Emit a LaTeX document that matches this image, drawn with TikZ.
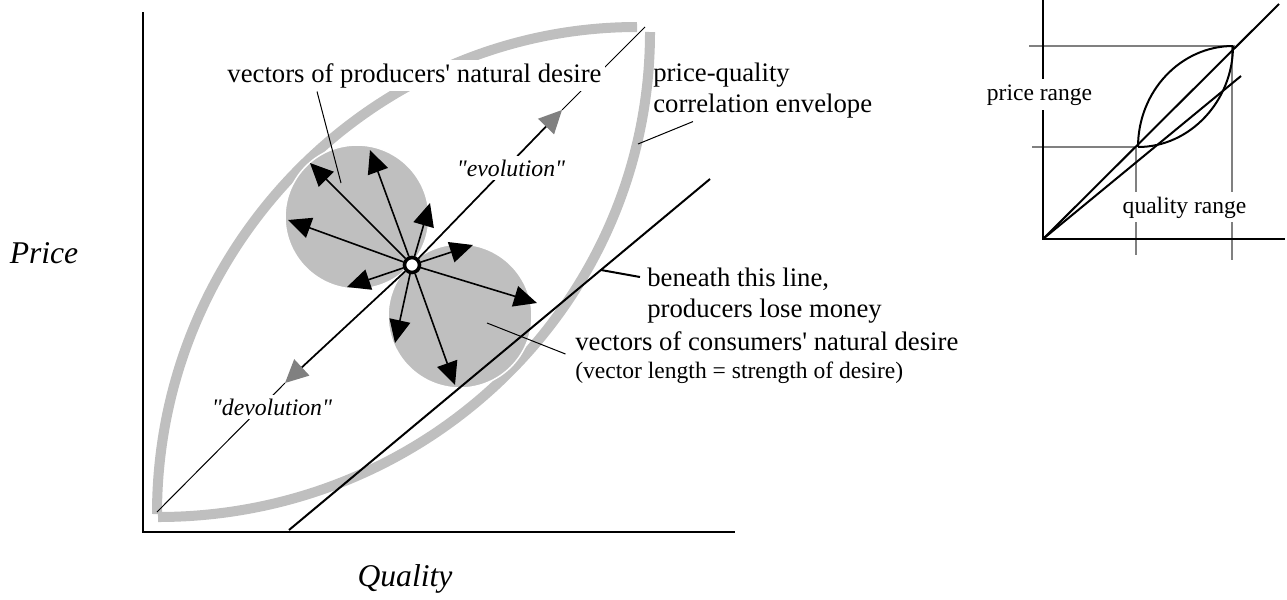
\documentclass[tikz,border=0pt]{standalone}
\usepackage{fontspec}
\setmainfont{Liberation Serif}
\usetikzlibrary{arrows.meta}

\definecolor{envgray}{gray}{0.75}
\definecolor{headgray}{gray}{0.5}

\tikzset{
  envelope/.style={envgray, line width=0.2cm},
  zone/.style={fill=envgray, draw=white, line width=0.03cm},
  vec/.style={line width=0.032cm, -{Triangle[length=0.46cm,width=0.42cm]}},
  trend/.style={line width=0.035cm, -{Triangle[length=0.46cm,width=0.44cm,color=headgray]}},
  txt/.style={inner sep=2pt, font=\fontsize{15.2}{17.5}\selectfont},
  smalltxt/.style={inner sep=2pt, font=\fontsize{13.4}{16}\selectfont},
  axislbl/.style={inner sep=2pt, font=\fontsize{18}{21}\selectfont\itshape},
  gap/.style={fill=white},
  rangeline/.style={headgray, line width=0.04cm}
}

\begin{document}
\begin{tikzpicture}[x=0.02cm, y=-0.02cm]
  \useasboundingbox (0,0) rectangle (1287,599);

  % axes of the main chart
  \draw[line width=0.054cm] (143,12) -- (143,532) -- (735,532);
  \node[axislbl, anchor=base] (pricelbl) at (44,263) {Price};
  \node[axislbl, anchor=base] (qualitylbl) at (405,586) {Quality};

  % price-quality envelope, two gray arcs
  \draw[envelope] (157,514) .. controls (157,246) and (373,27) .. (637,27);
  \draw[envelope] (158,517) .. controls (430,517) and (650,301) .. (650,32);

  % zones of desire
  \draw[zone] (357,217) circle[radius=1.44cm];
  \draw[zone] (460,316) circle[radius=1.44cm];

  % break-even line
  \draw[line width=0.04cm] (289,530) -- (710,179);

  % current point
  \node[circle, draw, fill=white, line width=0.072cm, inner sep=0, minimum size=0.3cm] (ctr) at (412,265) {};

  % evolution / devolution
  \coordinate (evohead) at (562,110); \coordinate (evoend) at (645,27);
  \coordinate (devohead) at (285,383); \coordinate (devoend) at (157,512);
  \draw[trend] (ctr) -- (evohead);
  \draw[line width=0.02cm] (evohead) -- (evoend);
  \draw[trend] (ctr) -- (devohead);
  \draw[line width=0.02cm] (devohead) -- (devoend);

  % producers' vectors
  \coordinate (p1) at (310,163); \coordinate (p2) at (370,150); \coordinate (p3) at (430,203);
  \coordinate (p4) at (288,220); \coordinate (p5) at (347,287);
  \draw[vec] (ctr) -- (p1); \draw[vec] (ctr) -- (p2); \draw[vec] (ctr) -- (p3);
  \draw[vec] (ctr) -- (p4); \draw[vec] (ctr) -- (p5);

  % consumers' vectors
  \coordinate (c1) at (473,245); \coordinate (c2) at (537,303);
  \coordinate (c3) at (395,343); \coordinate (c4) at (455,385);
  \draw[vec] (ctr) -- (c1); \draw[vec] (ctr) -- (c2);
  \draw[vec] (ctr) -- (c3); \draw[vec] (ctr) -- (c4);

  % labels (base of a two-line node is its last line)
  \node[txt, gap, anchor=base] (prodlbl) at (414.5,82) {vectors of producers\textquotesingle{} natural desire};
  \node[txt, align=left, anchor=base west] (envlbl) at (649.5,112) {price-quality\\correlation envelope};
  \node[txt, align=left, anchor=base west] (losslbl) at (643.5,317) {beneath this line,\\producers lose money};
  \node[txt, align=left, anchor=base west] (conslbl) at (571.5,378)
    {vectors of consumers\textquotesingle{} natural desire\\[-2pt]{\fontsize{13.4}{16}\selectfont (vector length = strength of desire)}};
  \node[smalltxt, gap, anchor=base, font=\fontsize{13.5}{16}\selectfont\itshape] (evolbl) at (511,176) {\textquotedbl evolution\textquotedbl};
  \node[smalltxt, gap, anchor=base, font=\fontsize{13.5}{16}\selectfont\itshape] (devolbl) at (272,415) {\textquotedbl devolution\textquotedbl};

  % pointers
  \coordinate (prodtip) at (341,183); \coordinate (envtip) at (638,144);
  \coordinate (losstip) at (601,270); \coordinate (constip) at (487,323);
  \draw[line width=0.02cm] ([xshift=-1.95cm]prodlbl.south) -- (prodtip);
  \draw[line width=0.02cm] ([xshift=0.87cm]envlbl.south west) -- (envtip);
  \draw[line width=0.04cm] ([xshift=-0.07cm, yshift=0.8cm]losslbl.base west) -- (losstip);
  \draw[line width=0.02cm] ([xshift=-0.12cm, yshift=0.48cm]conslbl.base west) -- (constip);

  % small chart: ranges
  \draw[rangeline] (1029,46) -- (1235,46);
  \draw[rangeline] (1032,147) -- (1137,147);
  \draw[rangeline] (1136,147) -- (1136,255);
  \draw[rangeline] (1232,46) -- (1232,260);
  \draw[line width=0.046cm] (1043,0) -- (1043,239) -- (1285,239);
  \draw[line width=0.04cm] (1043,239) -- (1279,4);
  \draw[line width=0.04cm] (1043,239) -- (1241,76);
  \draw[line width=0.04cm] (1138,147) .. controls (1138,91) and (1181,46) .. (1233,46);
  \draw[line width=0.04cm] (1138,147) .. controls (1190,147) and (1233,101) .. (1233,46);
  \node[smalltxt, gap, anchor=base, inner sep=2.8pt] (pricerange) at (1039.5,100) {price range};
  \node[smalltxt, gap, anchor=base, inner sep=2.5pt] (qualityrange) at (1184.5,213) {quality range};
\end{tikzpicture}
\end{document}
